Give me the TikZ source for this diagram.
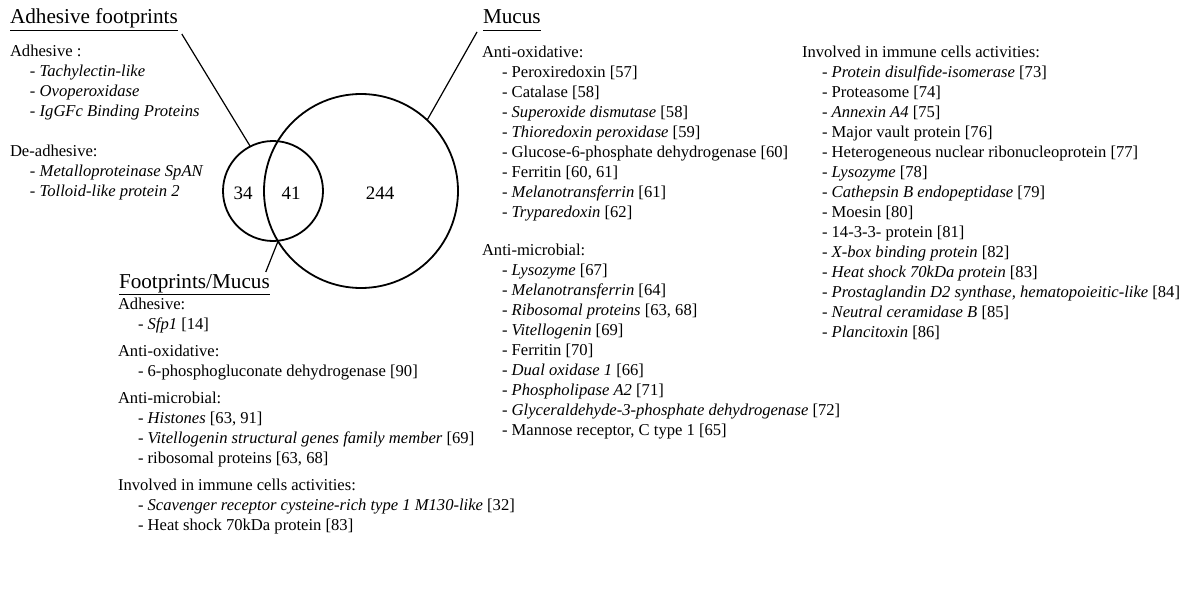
\documentclass[tikz,border=0pt]{standalone}
\usepackage{fontspec}
\setmainfont{Liberation Serif}
\newcommand\myitem[1]{\hspace*{20pt}-\ #1}
\newcommand\firststrut{\rule{0pt}{13pt}}
\tikzset{
  body/.style={anchor=north west, inner sep=0pt, outer sep=0pt, align=left,
    font=\fontsize{16.6}{20}\selectfont},
  ttl/.style={anchor=base west, inner sep=0pt, outer sep=0pt,
    font=\fontsize{21.2}{25}\selectfont},
  venn/.style={draw, circle, line width=1.8pt, inner sep=0pt, outer sep=0pt},
  count/.style={inner sep=0pt, font=\fontsize{19}{22}\selectfont},
  conn/.style={line width=1.2pt},
  uline/.style={line width=1.3pt}
}
\begin{document}
\begin{tikzpicture}[x=1pt,y=-1pt]
\useasboundingbox (0,0) rectangle (1187,594);

% Venn circles
\node[venn, minimum size=100pt] (fp) at (273,191) {};
\node[venn, minimum size=194pt] (mu) at (361,191) {};
\node[count] (n34) at (243,193) {34};
\node[count] (n41) at (291,193) {41};
\node[count] (n244) at (380,193) {244};

% Titles
\node[ttl] (adt) at (10,24) {Adhesive footprints};
\node[ttl] (mut) at (483,24) {Mucus};
\node[ttl] (fmt) at (119,288) {Footprints/Mucus};
\draw[uline] ([yshift=-6.5pt]adt.base west) -- ([yshift=-6.5pt]adt.base east);
\draw[uline] ([yshift=-6.5pt]mut.base west) -- ([yshift=-6.5pt]mut.base east);
\draw[uline] ([yshift=-6.5pt]fmt.base west) -- ([yshift=-6.5pt]fmt.base east);

% Connectors
\draw[conn] ([shift={(4pt,-10pt)}]adt.base east) -- (fp.117);
\draw[conn] ([shift={(-6pt,-8pt)}]mut.base west) -- (mu.47.5);
\draw[conn] (fp.-84.6) -- ([shift={(-4pt,16pt)}]fmt.base east);

% Adhesive footprints list
\node[body] (lc) at (10,43) {\firststrut Adhesive :\\[0.5pt]
\myitem{\textit{Tachylectin-like}}\\
\myitem{\textit{Ovoperoxidase}}\\
\myitem{\textit{IgGFc Binding Proteins}}\\[20pt]
De-adhesive:\\
\myitem{\textit{Metalloproteinase SpAN}}\\
\myitem{\textit{Tolloid-like protein 2}}};

% Footprints/Mucus list
\node[body] (fc) at (118,296) {\firststrut Adhesive:\\
\myitem{\textit{Sfp1} [14]}\\[7pt]
Anti-oxidative:\\
\myitem{6-phosphogluconate dehydrogenase [90]}\\[7pt]
Anti-microbial:\\
\myitem{\textit{Histones} [63, 91]}\\
\myitem{\textit{Vitellogenin structural genes family member} [69]}\\
\myitem{ribosomal proteins [63, 68]}\\[7.5pt]
Involved in immune cells activities:\\
\myitem{\textit{Scavenger receptor cysteine-rich type 1 M130-like} [32]}\\
\myitem{Heat shock 70kDa protein [83]}};

% Mucus list
\node[body] (mc) at (482,44) {\firststrut Anti-oxidative:\\
\myitem{Peroxiredoxin [57]}\\
\myitem{Catalase [58]}\\
\myitem{\textit{Superoxide dismutase} [58]}\\
\myitem{\textit{Thioredoxin peroxidase} [59]}\\
\myitem{Glucose-6-phosphate dehydrogenase [60]}\\
\myitem{Ferritin [60, 61]}\\
\myitem{\textit{Melanotransferrin} [61]}\\
\myitem{\textit{Tryparedoxin} [62]}\\[18pt]
Anti-microbial:\\
\myitem{\textit{Lysozyme} [67]}\\
\myitem{\textit{Melanotransferrin} [64]}\\
\myitem{\textit{Ribosomal proteins} [63, 68]}\\
\myitem{\textit{Vitellogenin} [69]}\\
\myitem{Ferritin [70]}\\
\myitem{\textit{Dual oxidase 1} [66]}\\
\myitem{\textit{Phospholipase A2} [71]}\\
\myitem{\textit{Glyceraldehyde-3-phosphate dehydrogenase} [72]}\\
\myitem{Mannose receptor, C type 1 [65]}};

% Immune cells list
\node[body] (rc) at (802,44) {\firststrut Involved in immune cells activities:\\
\myitem{\textit{Protein disulfide-isomerase} [73]}\\
\myitem{Proteasome [74]}\\
\myitem{\textit{Annexin A4} [75]}\\
\myitem{Major vault protein [76]}\\
\myitem{Heterogeneous nuclear ribonucleoprotein [77]}\\
\myitem{\textit{Lysozyme} [78]}\\
\myitem{\textit{Cathepsin B endopeptidase} [79]}\\
\myitem{Moesin [80]}\\
\myitem{14-3-3- protein [81]}\\
\myitem{\textit{X-box binding protein} [82]}\\
\myitem{\textit{Heat shock 70kDa protein} [83]}\\
\myitem{\textit{Prostaglandin D2 synthase, hematopoieitic-like} [84]}\\
\myitem{\textit{Neutral ceramidase B} [85]}\\
\myitem{\textit{Plancitoxin} [86]}};
\end{tikzpicture}
\end{document}
